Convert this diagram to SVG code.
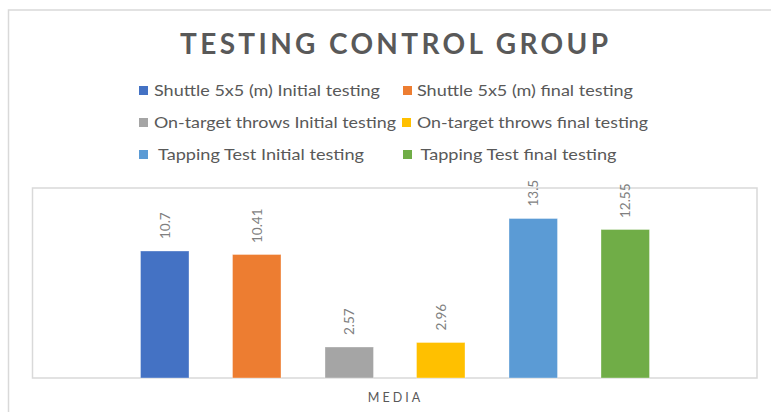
<svg xmlns="http://www.w3.org/2000/svg" width="771" height="412" viewBox="0 0 771 412">
  <style>
    .frame { fill: none; stroke: #d9d9d9; stroke-width: 1.5; }
    .title { font-family: Lato, "Liberation Sans", sans-serif; font-weight: bold; font-size: 28px; fill: #595959; }
    .legend { font-family: Lato, "Liberation Sans", sans-serif; font-size: 16px; fill: #595959; }
    .value { font-family: Lato, "Liberation Sans", sans-serif; font-size: 13.5px; fill: #7f7f7f; }
    .axis { font-family: Lato, "Liberation Sans", sans-serif; font-size: 12.5px; fill: #595959; letter-spacing: 3px; }
    .bar { stroke: #ffffff; stroke-opacity: 0.35; stroke-width: 1; }
  </style>

  <rect width="771" height="412" fill="#ffffff"/>

  <!-- chart frame (partly outside the canvas) -->
  <polyline class="frame" points="8.5,412 8.5,10 771,10"/>

  <!-- title -->
  <text id="title" class="title" x="180" y="54" textLength="428" lengthAdjust="spacing">TESTING CONTROL GROUP</text>

  <!-- legend -->
  <g id="legend">
    <rect x="139" y="86" width="9" height="9" fill="#4472c4"/>
    <text class="legend" x="154" y="96" textLength="226" lengthAdjust="spacingAndGlyphs">Shuttle 5x5 (m) Initial testing</text>
    <rect x="403" y="86" width="9" height="9" fill="#ed7d31"/>
    <text class="legend" x="417" y="96" textLength="216" lengthAdjust="spacingAndGlyphs">Shuttle 5x5 (m) final testing</text>

    <rect x="139" y="118" width="9" height="9" fill="#a5a5a5"/>
    <text class="legend" x="154" y="128" textLength="242" lengthAdjust="spacingAndGlyphs">On-target throws Initial testing</text>
    <rect x="402" y="118" width="9" height="9" fill="#ffc000"/>
    <text class="legend" x="417" y="128" textLength="231" lengthAdjust="spacingAndGlyphs">On-target throws final testing</text>

    <rect x="139" y="150" width="9" height="9" fill="#5b9bd5"/>
    <text class="legend" x="158" y="160" textLength="206" lengthAdjust="spacingAndGlyphs">Tapping Test Initial testing</text>
    <rect x="403" y="150" width="9" height="9" fill="#70ad47"/>
    <text class="legend" x="420.5" y="160" textLength="196" lengthAdjust="spacingAndGlyphs">Tapping Test final testing</text>
  </g>

  <!-- plot area -->
  <rect id="plot-area" class="frame" x="32.5" y="188" width="724.5" height="190"/>

  <!-- bars with their value labels -->
  <g id="bar-shuttle-initial">
    <rect class="bar" x="140.5" y="251" width="48.5" height="127" fill="#4472c4"/>
    <text class="value" transform="translate(169.5,239) rotate(-90)">10.7</text>
  </g>
  <g id="bar-shuttle-final">
    <rect class="bar" x="232.5" y="254.5" width="48.5" height="123.5" fill="#ed7d31"/>
    <text class="value" transform="translate(261.5,243) rotate(-90)">10.41</text>
  </g>
  <g id="bar-throws-initial">
    <rect class="bar" x="325" y="347" width="48.5" height="31" fill="#a5a5a5"/>
    <text class="value" transform="translate(354,335) rotate(-90)">2.57</text>
  </g>
  <g id="bar-throws-final">
    <rect class="bar" x="416.5" y="342.5" width="48.5" height="35.5" fill="#ffc000"/>
    <text class="value" transform="translate(445.5,330.5) rotate(-90)">2.96</text>
  </g>
  <g id="bar-tapping-initial">
    <rect class="bar" x="509" y="218.5" width="48.5" height="159.5" fill="#5b9bd5"/>
    <text class="value" transform="translate(538,206.5) rotate(-90)">13.5</text>
  </g>
  <g id="bar-tapping-final">
    <rect class="bar" x="601" y="229.5" width="48.5" height="148.5" fill="#70ad47"/>
    <text class="value" transform="translate(630,218) rotate(-90)">12.55</text>
  </g>

  <!-- category axis label -->
  <text id="axis-label" class="axis" x="395.5" y="402" text-anchor="middle">MEDIA</text>
</svg>
